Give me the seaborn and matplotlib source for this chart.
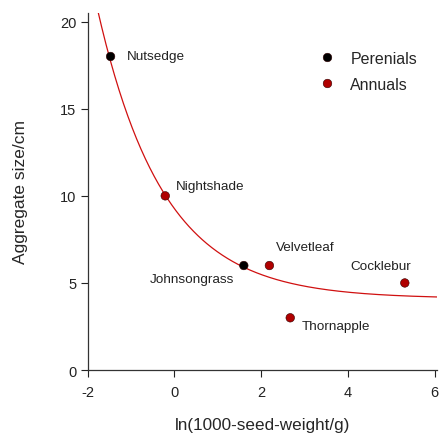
import numpy as np
import pandas as pd
import matplotlib
matplotlib.use("Agg")
import matplotlib.pyplot as plt
import seaborn as sns

names = ["Nutsedge", "Nightshade", "Johnsongrass", "Velvetleaf", "Thornapple", "Cocklebur"]
seed_weight = [-1.47, -0.21, 1.60, 2.19, 2.67, 5.31]
agg_size = [18.0, 10.0, 6.0, 6.0, 3.0, 5.0]
group = ["Perenials", "Annuals", "Perenials", "Annuals", "Annuals", "Annuals"]
# fitted curve parameters: y = A + B*exp(-k x)
fit_A, fit_B, fit_k = 4.1, 5.17, 0.659

df = pd.DataFrame({"x": seed_weight, "y": agg_size, "group": group, "name": names})

sns.set_style("ticks")
plt.rcParams["font.family"] = ["Liberation Sans", "DejaVu Sans"]
plt.rcParams["axes.unicode_minus"] = False

fig = plt.figure(figsize=(4.4, 4.35), dpi=100)
ax = fig.add_axes([0.199, 0.147, 0.794, 0.821])

xc = np.linspace(-2, 6.05, 400)
ax.plot(xc, fit_A + fit_B * np.exp(-fit_k * xc), color="#d01010", lw=0.9, zorder=1)

sns.scatterplot(data=df, x="x", y="y", hue="group", hue_order=["Perenials", "Annuals"],
                palette={"Perenials": "#000000", "Annuals": "#b00000"},
                s=38, edgecolor="#300000", linewidth=0.4, ax=ax, zorder=3)

offsets = {
    "Nutsedge": ((16, 0), "left"),
    "Nightshade": ((11, 10), "left"),
    "Johnsongrass": ((-10, -13), "right"),
    "Velvetleaf": ((7, 19), "left"),
    "Thornapple": ((11, -8), "left"),
    "Cocklebur": ((-24, 17), "center"),
}
for n, xv, yv in zip(names, seed_weight, agg_size):
    (dx, dy), ha = offsets[n]
    ax.annotate(n, (xv, yv), xytext=(dx * 0.72, dy * 0.72), textcoords="offset points",
                ha=ha, va="center", fontsize=9.7, color="#222222")

ax.set_xlim(-2, 6.05)
ax.set_ylim(0, 20.5)
ax.set_xticks([-2, 0, 2, 4, 6])
ax.set_yticks([0, 5, 10, 15, 20])
ax.tick_params(labelsize=10.5, length=5, width=0.8, colors="#222222")
ax.tick_params(axis="x", pad=6)
ax.tick_params(axis="y", pad=3)
for sp in ["top", "right"]:
    ax.spines[sp].set_visible(False)
for sp in ["left", "bottom"]:
    ax.spines[sp].set_linewidth(0.9)
    ax.spines[sp].set_color("#333333")

ax.set_xlabel("ln(1000-seed-weight/g)", fontsize=12.3, labelpad=12.5)
ax.set_ylabel("Aggregate size/cm", fontsize=12.5, labelpad=23)

leg = ax.legend(loc="upper left", bbox_to_anchor=(0.622, 0.912), frameon=False, fontsize=11.5,
                handletextpad=0.45, labelspacing=0.7, markerscale=1.0,
                borderaxespad=0)

fig.savefig("out.png", dpi=100)
